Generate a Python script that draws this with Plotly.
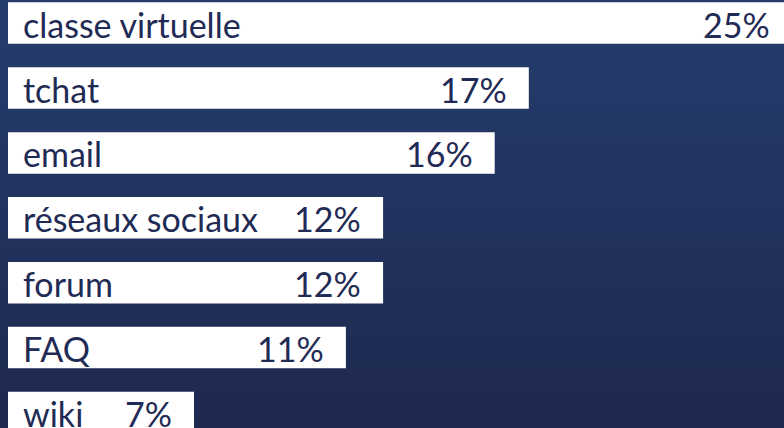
import plotly.graph_objects as go

categories = ["classe virtuelle", "tchat", "email", "réseaux sociaux", "forum", "FAQ", "wiki"]
values = [25.3, 16.8, 15.7, 12.1, 12.1, 10.9, 6.0]
value_labels = ["25%", "17%", "16%", "12%", "12%", "11%", "7%"]

TEXT_COLOR = "#1f2b55"
FONT = "Lato, 'Open Sans', sans-serif"
FSIZE = 34
PX_PER_UNIT = 31.0
VALUE_PAD = 20 / PX_PER_UNIT

fig = go.Figure()
fig.add_trace(go.Bar(
    x=values, y=categories, orientation="h",
    marker=dict(color="white", line=dict(width=0)),
    width=0.64, hoverinfo="skip", showlegend=False,
))

annotations = []
for cat, v, lab in zip(categories, values, value_labels):
    annotations.append(dict(x=0, y=cat, xref="x", yref="y", text=cat, showarrow=False,
                            xanchor="left", yanchor="middle", xshift=13, yshift=-1,
                            font=dict(family=FONT, size=FSIZE, color=TEXT_COLOR)))
    annotations.append(dict(x=v - VALUE_PAD, y=cat, xref="x", yref="y", text=lab, showarrow=False,
                            xanchor="right", yanchor="middle", yshift=-1,
                            font=dict(family=FONT, size=FSIZE, color=TEXT_COLOR)))

# vertical background gradient
top = (0x25, 0x3d, 0x6d)
bot = (0x1e, 0x29, 0x50)
n = 60
shapes = []
for i in range(n):
    t = i / (n - 1)
    c = tuple(round(top[k] + (bot[k] - top[k]) * t) for k in range(3))
    shapes.append(dict(type="rect", xref="paper", yref="paper",
                       x0=0, x1=1, y0=1 - (i + 1) / n, y1=1 - i / n + 0.001,
                       fillcolor="rgb(%d,%d,%d)" % c, line=dict(width=0), layer="below"))

fig.update_layout(
    width=784, height=428,
    margin=dict(l=0, r=0, t=0, b=0),
    paper_bgcolor="#222f5c", plot_bgcolor="rgba(0,0,0,0)",
    shapes=shapes, annotations=annotations,
    xaxis=dict(range=[-8 / PX_PER_UNIT, 776 / PX_PER_UNIT], visible=False, fixedrange=True),
    yaxis=dict(type="category", categoryorder="array", categoryarray=categories,
               range=[6.239, -0.356], visible=False, fixedrange=True),
    bargap=0.36,
)

fig.write_html("out.html", config={"displayModeBar": False},
               post_script="document.body.style.margin='0';document.body.style.overflow='hidden';")
